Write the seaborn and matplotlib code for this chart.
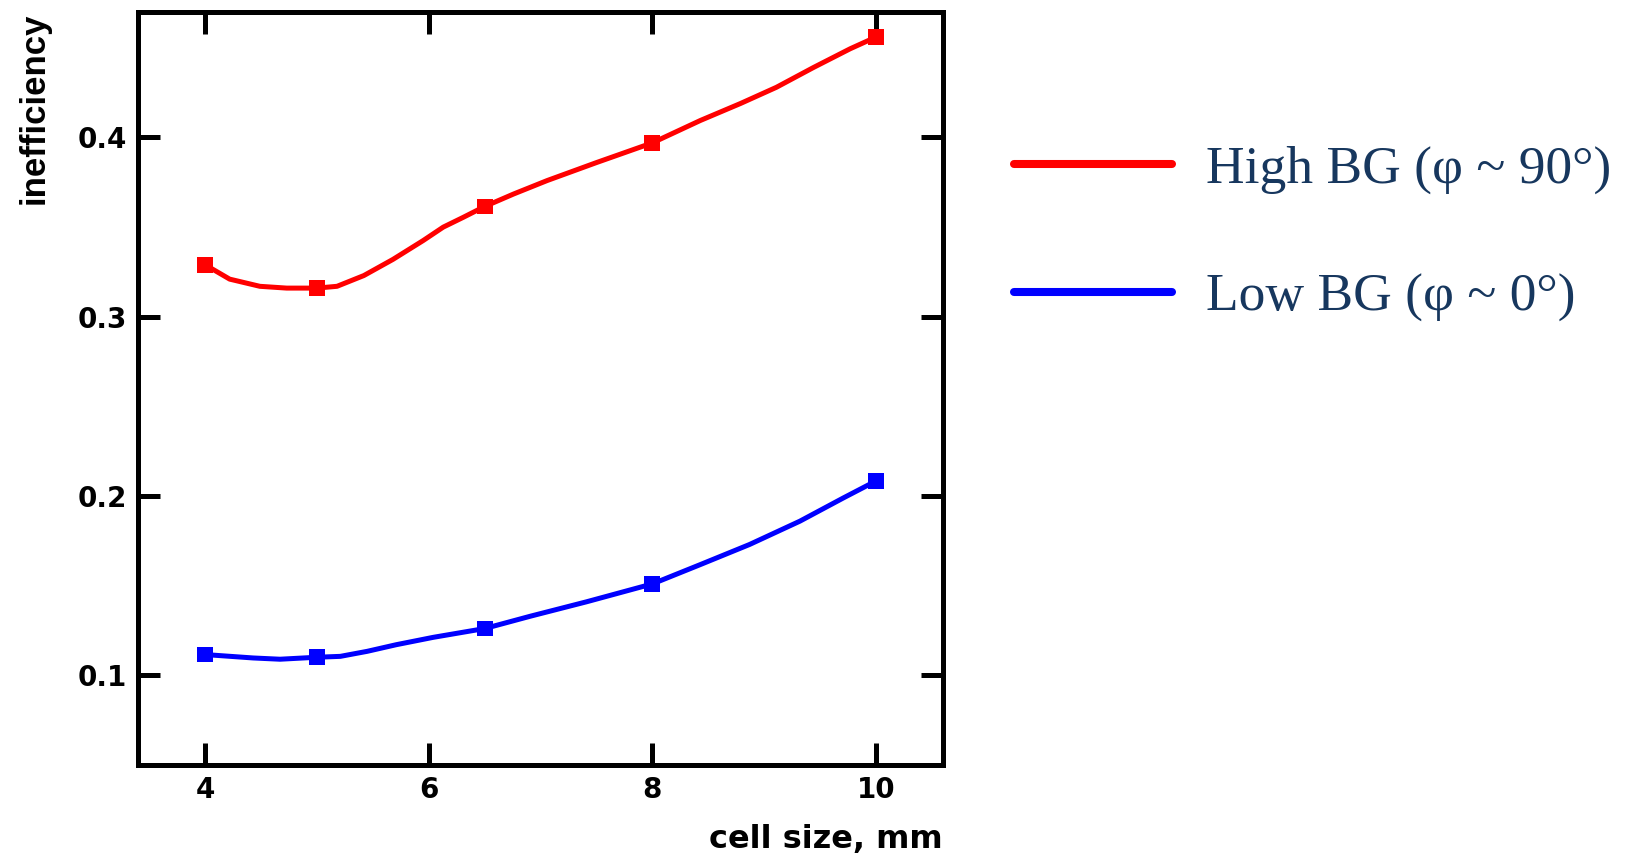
import matplotlib
matplotlib.use("Agg")
import matplotlib.pyplot as plt
from matplotlib.lines import Line2D
import seaborn as sns

# ---- data ----
cell_size = [4.0, 5.0, 6.5, 8.0, 10.0]
high_bg = [0.329, 0.316, 0.3615, 0.397, 0.456]
low_bg = [0.1116, 0.1101, 0.1261, 0.151, 0.2084]

# traced smooth curves
high_curve_x = [4.0, 4.22, 4.49, 4.73, 5.0, 5.18, 5.42, 5.68, 5.95, 6.13, 6.31, 6.5,
                6.76, 7.06, 7.5, 8.0, 8.43, 8.79, 9.11, 9.44, 9.77, 10.0]
high_curve_y = [0.329, 0.321, 0.317, 0.316, 0.316, 0.317, 0.323, 0.332, 0.3425, 0.350,
                0.3555, 0.3615, 0.3685, 0.376, 0.386, 0.397, 0.4095, 0.419, 0.428,
                0.439, 0.4495, 0.456]
low_curve_x = [4.0, 4.43, 4.67, 5.0, 5.21, 5.45, 5.71, 6.04, 6.5, 6.91, 7.41, 8.0,
               8.43, 8.87, 9.32, 9.71, 10.0]
low_curve_y = [0.1116, 0.1097, 0.1090, 0.1101, 0.1106, 0.1134, 0.1171, 0.1212, 0.1261,
               0.133, 0.141, 0.151, 0.1618, 0.173, 0.186, 0.199, 0.2084]

x_ticks = [4, 6, 8, 10]
y_ticks = [0.1, 0.2, 0.3, 0.4]
series_labels = ["High BG (\u03c6 ~ 90\u00b0)", "Low BG (\u03c6 ~ 0\u00b0)"]
x_label = "cell size, mm"
y_label = "inefficiency"

RED = "#ff0000"
BLUE = "#0000ff"
NAVY = "#17375e"

sns.set_style("white")
plt.rcParams["font.family"] = ["DejaVu Sans"]
plt.rcParams["text.color"] = "black"
plt.rcParams["axes.labelcolor"] = "black"

fig = plt.figure(figsize=(16.3, 8.58), dpi=100)
ax = fig.add_axes([138 / 1630, 1 - 765 / 858, (943 - 138) / 1630, (765 - 12) / 858])

sns.lineplot(x=high_curve_x, y=high_curve_y, sort=False, estimator=None, ax=ax,
             color=RED, linewidth=3.6)
sns.lineplot(x=low_curve_x, y=low_curve_y, sort=False, estimator=None, ax=ax,
             color=BLUE, linewidth=3.6)
sns.scatterplot(x=cell_size, y=high_bg, marker="s", s=130, color=RED,
                edgecolor="none", ax=ax, zorder=5)
sns.scatterplot(x=cell_size, y=low_bg, marker="s", s=130, color=BLUE,
                edgecolor="none", ax=ax, zorder=5)

ax.set_xlim(3.4, 10.6)
ax.set_ylim(0.05, 0.47)
ax.set_xticks(x_ticks)
ax.set_xticklabels([str(v) for v in x_ticks])
ax.set_yticks(y_ticks)
ax.set_yticklabels([f"{v:.1f}" for v in y_ticks])

for sp in ax.spines.values():
    sp.set_visible(True)
    sp.set_linewidth(3.6)
    sp.set_color("black")

ax.tick_params(axis="both", which="major", direction="in", length=16, width=3.6,
               top=True, right=True, bottom=True, left=True, labelsize=20,
               pad=8, colors="black", labelcolor="black")
for lab in ax.get_xticklabels() + ax.get_yticklabels():
    lab.set_fontweight("bold")

ax.set_xlabel(x_label, fontsize=23, fontweight="bold", loc="right", labelpad=14,
              color="black")
ax.set_ylabel(y_label, fontsize=25, fontweight="bold", loc="top", labelpad=19,
              color="black", family=["Liberation Sans", "DejaVu Sans"])

handles = [Line2D([0], [0], color=RED, linewidth=5.8),
           Line2D([0], [0], color=BLUE, linewidth=5.8)]
leg = ax.legend(handles=handles, labels=series_labels, loc="upper left",
                bbox_to_anchor=(1014 / 1630, 1 - 145 / 858),
                bbox_transform=fig.transFigure, frameon=False,
                prop={"family": ["Liberation Serif", "DejaVu Serif"], "size": 38.5},
                handlelength=2.95, handletextpad=0.65, labelspacing=1.48,
                borderpad=0, borderaxespad=0)
for t in leg.get_texts():
    t.set_color(NAVY)

fig.savefig("out.png", dpi=100)
